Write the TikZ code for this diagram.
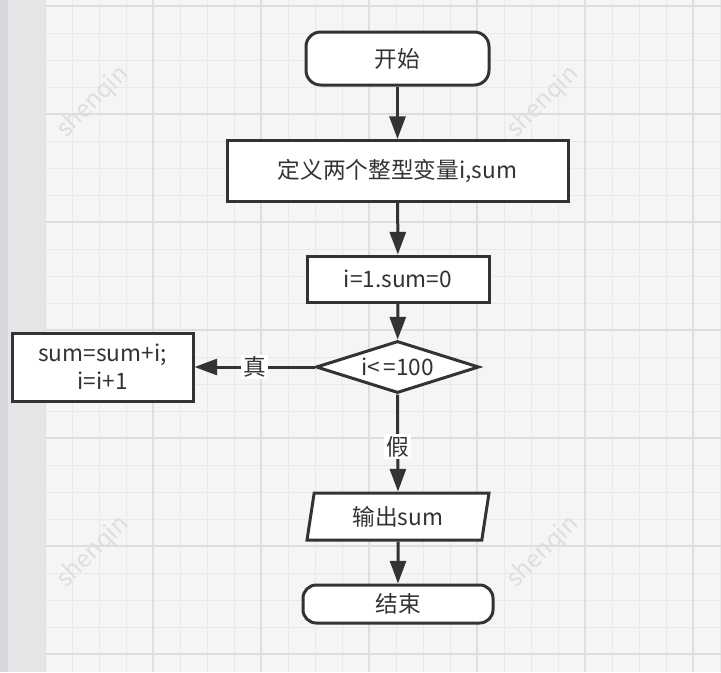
\documentclass[tikz,border=0pt]{standalone}
\usepackage{fontspec}
\setmainfont{Noto Sans CJK SC}
\usetikzlibrary{shapes.geometric,arrows.meta}
\definecolor{ink}{HTML}{333333}
\definecolor{gridbg}{HTML}{F5F5F5}
\definecolor{gridminor}{HTML}{E9E9E9}
\definecolor{gridmajor}{HTML}{DEDEDE}
\definecolor{stripgray}{HTML}{E6E6E6}
\definecolor{stripedge}{HTML}{D6D8DC}
\definecolor{markgray}{HTML}{DEDEDE}
\tikzset{
	flowbox/.style={draw=ink, line width=2.25pt, fill=white, text=ink, inner sep=0pt, align=center, font=\fontsize{17}{21}\selectfont},
	termbox/.style={flowbox, rounded corners=11pt},
	flowline/.style={draw=ink, line width=2.25pt, -{Triangle[length=17pt,width=12pt]}},
	branchlabel/.style={fill=white, text=ink, inner sep=1.5pt, font=\fontsize{17}{21}\selectfont},
	watermark/.style={text=markgray, rotate=45, font=\fontsize{18}{18}\selectfont}
}
\begin{document}
	\begin{tikzpicture}[x=0.75pt,y=0.75pt,yscale=-1,xscale=1]
		\useasboundingbox (0,0) rectangle (721,672);

		% Background grid
		\fill[gridbg] (0,0) rectangle (721,672);
		\foreach \gx in {72,99,...,720} \draw[gridminor, line width=0.75pt] (\gx,0) -- (\gx,672);
		\foreach \gy in {6,33,...,672} \draw[gridminor, line width=0.75pt] (45,\gy) -- (721,\gy);
		\foreach \gx in {153,261,...,693} \draw[gridmajor, line width=1.1pt] (\gx,0) -- (\gx,672);
		\foreach \gy in {6,114,...,654} \draw[gridmajor, line width=1.1pt] (45,\gy) -- (721,\gy);
		\fill[stripgray] (0,0) rectangle (45,672);
		\fill[stripedge] (0,0) rectangle (8,672);
		\draw[gridmajor, line width=0.75pt] (45,0) -- (45,672);

		% Watermarks
		\node[watermark] (markA) at (93,102) {shenqin};
		\node[watermark] (markB) at (543,102) {shenqin};
		\node[watermark] (markC) at (93,552) {shenqin};
		\node[watermark] (markD) at (543,552) {shenqin};

		% Flow nodes
		\node[termbox, minimum width=137.25pt, minimum height=39.75pt] (start) at (397.5,58.5) {开始};
		\node[flowbox, minimum width=255.75pt, minimum height=45.75pt] (define) at (397.5,171) {定义两个整型变量i,sum};
		\node[flowbox, minimum width=136.5pt, minimum height=34.5pt] (init) at (398,279) {i=1.sum=0};
		\node[flowbox, diamond, aspect=3.1, minimum width=122.25pt, minimum height=39pt] (cond) at (397.5,367) {i<\,=100};
		\node[flowbox, minimum width=135.75pt, minimum height=51pt] (loop) at (102.5,367) {sum=sum+i;\\i=i+1};
		\node[flowbox, trapezium, trapezium left angle=71, trapezium right angle=109, trapezium stretches body, minimum width=136.5pt, minimum height=35.25pt] (output) at (398,516.5) {输出sum};
		\node[termbox, rounded corners=10pt, minimum width=142.5pt, minimum height=28.5pt] (finish) at (398,604) {结束};

		% Connectors
		\draw[flowline] (start) -- (define);
		\draw[flowline] (define) -- (init);
		\draw[flowline] (init) -- (cond);
		\draw[flowline] (cond.west) -- node[branchlabel] (yes) {真} (loop.east);
		\draw[flowline] (cond.south) -- node[branchlabel, pos=0.54] (no) {假} (output.north);
		\draw[flowline] (output) -- (finish);

	\end{tikzpicture}
\end{document}
